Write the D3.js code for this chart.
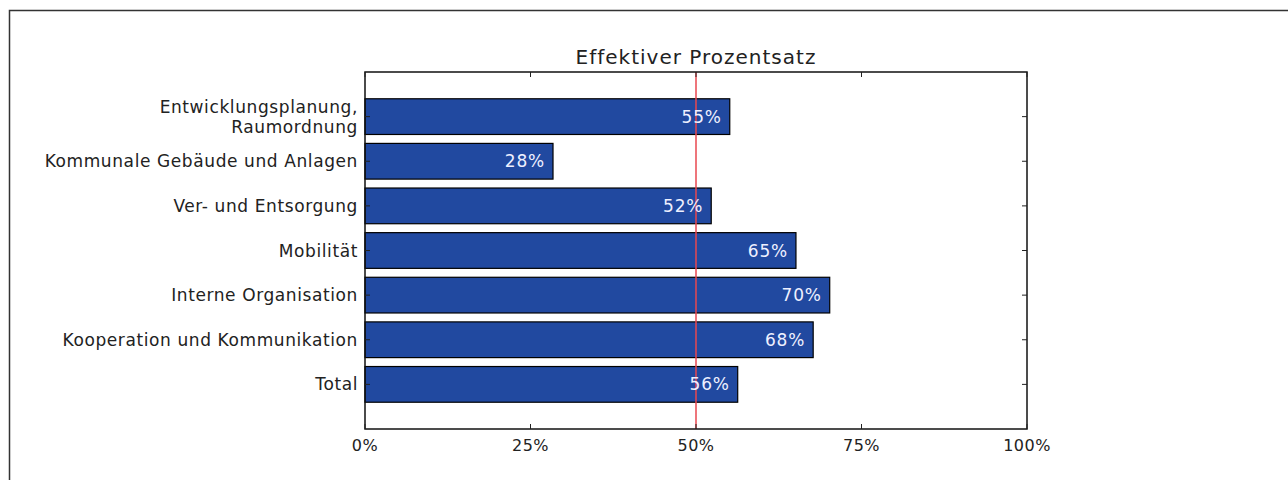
<!DOCTYPE html>
<html lang="en">
<head>
<meta charset="UTF-8">
<title>Effektiver Prozentsatz</title>
<script src="https://d3js.org/d3.v7.min.js"></script>
<style>
  body { margin: 0; background: #fff; }
  text { font-family: "DejaVu Sans", sans-serif; fill: #222; }
</style>
</head>
<body>
<svg id="chart" width="1288" height="480"></svg>
<script>
// categories, top to bottom
const categories = [
  ["Entwicklungsplanung,", "Raumordnung"],
  ["Kommunale Gebäude und Anlagen"],
  ["Ver- und Entsorgung"],
  ["Mobilität"],
  ["Interne Organisation"],
  ["Kooperation und Kommunikation"],
  ["Total"]
];
const values = [55.1, 28.4, 52.3, 65.1, 70.2, 67.7, 56.3];
const valueLabels = ["55%", "28%", "52%", "65%", "70%", "68%", "56%"];
const xTicks = [0, 25, 50, 75, 100];
const refLine = 50;

const svg = d3.select("#chart");
const margin = { left: 365, right: 261, top: 72, bottom: 51 };
const W = 1288, H = 480;

// outer frame (only top and left visible)
svg.append("path")
  .attr("d", `M9.5,480 V10.5 H1288`)
  .attr("fill", "none").attr("stroke", "#333").attr("stroke-width", 1.5);

const x = d3.scaleLinear().domain([0, 100]).range([margin.left, W - margin.right]);
// matplotlib style: bars at 0..6, y limits -1..7
const y = d3.scaleLinear().domain([-1, 7]).range([margin.top, H - margin.bottom]);
const barH = y(0.4) - y(-0.4);

const g = svg.append("g");

g.selectAll("rect.bar")
  .data(values)
  .enter().append("rect")
  .attr("class", "bar")
  .attr("x", x(0))
  .attr("y", (d, i) => y(i) - barH / 2)
  .attr("width", d => x(d) - x(0))
  .attr("height", barH)
  .attr("fill", "#2149a0")
  .attr("stroke", "#000")
  .attr("stroke-width", 1.2);

// 50% reference line
g.append("line")
  .attr("x1", x(refLine)).attr("x2", x(refLine))
  .attr("y1", y(-1)).attr("y2", y(7))
  .attr("stroke", "#e8474f").attr("stroke-width", 1.5);

// value labels inside bars
g.selectAll("text.val")
  .data(values)
  .enter().append("text")
  .attr("class", "val")
  .attr("x", d => x(d) - 8)
  .attr("y", (d, i) => y(i))
  .attr("dy", "0.36em")
  .attr("text-anchor", "end")
  .style("fill", "#eef0ff")
  .style("font-size", "17px")
  .style("letter-spacing", "0.8px")
  .text((d, i) => valueLabels[i]);

// axes frame
const x0 = x(0), x1 = x(100), y0 = y(-1), y1 = y(7);
g.append("rect")
  .attr("x", x0).attr("y", y0).attr("width", x1 - x0).attr("height", y1 - y0)
  .attr("fill", "none").attr("stroke", "#111").attr("stroke-width", 1.5);

// x ticks (inward, top and bottom)
const tickLen = 5;
xTicks.forEach(t => {
  g.append("line").attr("x1", x(t)).attr("x2", x(t))
    .attr("y1", y1).attr("y2", y1 - tickLen).attr("stroke", "#222");
  g.append("line").attr("x1", x(t)).attr("x2", x(t))
    .attr("y1", y0).attr("y2", y0 + tickLen).attr("stroke", "#222");
  g.append("text")
    .attr("x", x(t)).attr("y", y1 + 22)
    .attr("text-anchor", "middle")
    .style("font-size", "16px")
    .style("letter-spacing", "0.5px")
    .text(t + "%");
});

// y ticks (inward, left and right)
values.forEach((v, i) => {
  g.append("line").attr("x1", x0).attr("x2", x0 + tickLen)
    .attr("y1", y(i)).attr("y2", y(i)).attr("stroke", "#222");
  g.append("line").attr("x1", x1).attr("x2", x1 - tickLen)
    .attr("y1", y(i)).attr("y2", y(i)).attr("stroke", "#222");
});

// category labels
categories.forEach((lines, i) => {
  const t = g.append("text")
    .attr("x", x0 - 7)
    .attr("y", y(i))
    .attr("text-anchor", "end")
    .style("font-size", "17px")
    .style("letter-spacing", "0.6px");
  const n = lines.length;
  lines.forEach((s, k) => {
    t.append("tspan")
      .attr("x", x0 - 7)
      .attr("y", y(i) + (k - (n - 1) / 2) * 20)
      .attr("dy", "0.36em")
      .text(s);
  });
});

// title
svg.append("text")
  .attr("x", (x0 + x1) / 2)
  .attr("y", y0 - 8)
  .attr("text-anchor", "middle")
  .style("font-size", "20px")
  .style("letter-spacing", "1px")
  .text("Effektiver Prozentsatz");
</script>
</body>
</html>
